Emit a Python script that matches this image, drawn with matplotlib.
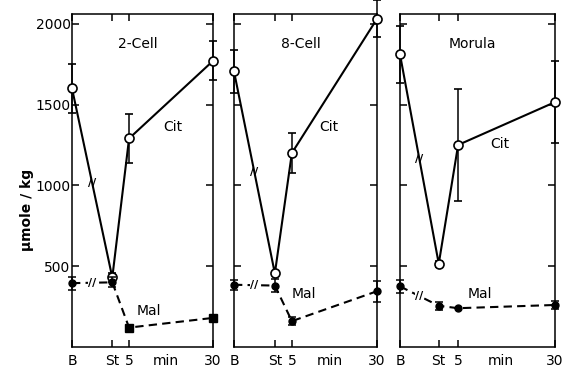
import matplotlib.pyplot as plt

plt.rcParams['font.family'] = ['DejaVu Sans']

panels = ["2-Cell", "8-Cell", "Morula"]
# x positions of B (varies per panel), St, 5 and 30 min
b_pos = [-12, -12, -10]
t_pos = [0, 5, 30]
xtick_labels = ["B", "St", "5", "30"]

cit_vals = [[1600, 430, 1290, 1770],
            [1705, 455, 1200, 2030],
            [1810, 515, 1250, 1515]]
cit_err = [[150, 30, 150, 120],
           [135, 0, 125, 115],
           [175, 20, 345, 255]]

mal_vals = [[395, 400, 120, 180],
            [385, 380, 160, 345],
            [375, 255, 240, 260]]
mal_err = [[40, 30, 0, 0],
           [30, 40, 25, 65],
           [40, 25, 0, 25]]
mal_markers = [["o", "o", "s", "s"], ["o"] * 4, ["o"] * 4]

yticks = [500, 1000, 1500, 2000]

fig = plt.figure(figsize=(5.66, 3.67), dpi=100)
rects = [[72, 141], [234, 143], [400, 155]]
bot, top = 347, 14
cit_lab = [(18, 1360), (15.9, 1364), (15.7, 1253)]
mal_lab = [(10.9, 222), (8.4, 327), (10.7, 327)]

for i, name in enumerate(panels):
    left, width = rects[i]
    ax = fig.add_axes([left / 566, (367 - bot) / 367, width / 566, (bot - top) / 367])
    xs = [b_pos[i]] + t_pos

    # citrate: solid line, open circles
    ax.errorbar(xs, cit_vals[i], yerr=cit_err[i], color='black', lw=1.5,
                elinewidth=1.1, capsize=3, capthick=1.1, marker='o', ms=6.5,
                mfc='white', mec='black', mew=1.2, zorder=3, clip_on=False)

    # malate: dashed line, filled markers
    ax.plot(xs, mal_vals[i], color='black', lw=1.5, ls=(0, (4, 2.5)), zorder=2,
            clip_on=False)
    ax.errorbar(xs, mal_vals[i], yerr=mal_err[i], fmt='none', ecolor='black',
                elinewidth=1.1, capsize=3, capthick=1.1, zorder=4, clip_on=False)
    for x, v, m in zip(xs, mal_vals[i], mal_markers[i]):
        ax.plot(x, v, marker=m, ms=5 if m == 'o' else 5.5, color='black',
                zorder=5, clip_on=False)

    # break marks between B and St
    ax.text((xs[0] + xs[1]) / 2, (cit_vals[i][0] + cit_vals[i][1]) / 2, "//",
            fontsize=8, fontweight='bold', ha='center', va='center', zorder=6)
    ax.text((xs[0] + xs[1]) / 2, (mal_vals[i][0] + mal_vals[i][1]) / 2, "//",
            fontsize=8, fontweight='bold', ha='center', va='center', zorder=6,
            bbox=dict(fc='white', ec='none', pad=0.2))

    ax.set_xlim(b_pos[i], 30)
    ax.set_ylim(0, 2060)
    ax.set_xticks(xs)
    ax.set_xticklabels(xtick_labels, fontsize=10)
    ax.set_xticks([16], minor=True)
    ax.set_xticklabels(["min"], minor=True, fontsize=10)
    ax.tick_params(axis='x', which='minor', length=0, pad=5, top=False)
    ax.set_yticks(yticks)
    ax.tick_params(axis='both', which='major', direction='in', length=5, width=1.1,
                   top=True, right=True, color='black')
    ax.tick_params(axis='x', which='major', pad=5)
    ax.tick_params(axis='y', pad=1)
    if i == 0:
        ax.set_yticklabels([str(t) for t in yticks], fontsize=10)
    else:
        ax.set_yticklabels([])
    for s in ax.spines.values():
        s.set_linewidth(1.1)

    ax.text(0.47, 0.91, name, transform=ax.transAxes, fontsize=10,
            ha='center', va='center')
    ax.text(cit_lab[i][0], cit_lab[i][1], "Cit", fontsize=10, ha='center', va='center')
    ax.text(mal_lab[i][0], mal_lab[i][1], "Mal", fontsize=10, ha='center', va='center')

fig.text(27 / 566, 1 - 210 / 367, "\u00b5mole / kg", rotation=90, fontsize=10,
         fontweight='bold', ha='center', va='center')

fig.savefig("out.png", dpi=100)
